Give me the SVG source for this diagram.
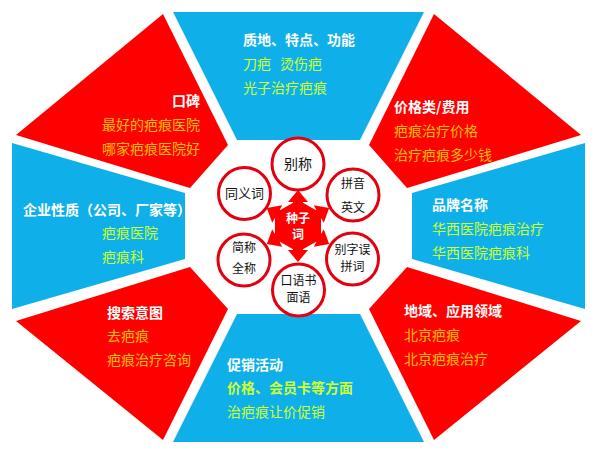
<svg xmlns="http://www.w3.org/2000/svg" xmlns:xlink="http://www.w3.org/1999/xlink" width="600" height="459" viewBox="0 0 600 459">
<style>
text{font-family:"Noto Sans CJK SC","Noto Sans",sans-serif;font-size:14px}
.t{fill:#fff;font-weight:bold}
.g{fill:#CCFF33}
.o{fill:#FFC000}
.blue{fill:#0FB0EA}
.red{fill:#FF0000}
.c{fill:#fff;stroke:#E3000F;stroke-width:3}
.k{fill:#111;font-size:12px;text-anchor:middle}
</style>
<defs>
<path id="arr" d="M-5,0 L-5,-24 L-10,-24 L0,-36 L10,-24 L5,-24 L5,0 Z" fill="#FF0000"/>
</defs>
<rect width="600" height="459" fill="#fff"/>
<g id="sector-top">
<polygon class="blue" points="173,12 424,12 360,140 237,140"/>
<text x="243" y="45" class="t">质地、特点、功能</text>
<text x="243" y="69" class="g">刀疤<tspan x="280">烫伤疤</tspan></text>
<text x="243" y="93" class="g">光子治疗疤痕</text>
</g>
<g id="sector-top-right">
<polygon class="red" points="434,14 581,135 407,188 369,145"/>
<text x="394" y="112" class="t">价格类/费用</text>
<text x="394" y="136" class="o">疤痕治疗价格</text>
<text x="394" y="160" class="o">治疗疤痕多少钱</text>
</g>
<g id="sector-right">
<polygon class="blue" points="412,193 585,143 585,309 412,259"/>
<text x="432" y="210" class="t">品牌名称</text>
<text x="432" y="234" class="g">华西医院疤痕治疗</text>
<text x="432" y="258" class="g">华西医院疤痕科</text>
</g>
<g id="sector-bottom-right">
<polygon class="red" points="369,309 407,267 581,321 434,440"/>
<text x="404" y="316" class="t">地域、应用领域</text>
<text x="404" y="340" class="o">北京疤痕</text>
<text x="404" y="364" class="o">北京疤痕治疗</text>
</g>
<g id="sector-bottom">
<polygon class="blue" points="237,314 360,314 424,442 173,442"/>
<text x="227" y="370" class="t">促销活动</text>
<text x="227" y="393" class="g" font-weight="bold">价格、会员卡等方面</text>
<text x="227" y="417" class="g">治疤痕让价促销</text>
</g>
<g id="sector-bottom-left">
<polygon class="red" points="16,321 190,267 228,309 163,440"/>
<text x="107" y="318" class="t">搜索意图</text>
<text x="107" y="341" class="o">去疤痕</text>
<text x="107" y="365" class="o">疤痕治疗咨询</text>
</g>
<g id="sector-left">
<polygon class="blue" points="12,143 185,193 185,259 12,309"/>
<text x="23" y="215" class="t">企业性质（公司、厂家等）</text>
<text x="102" y="238" class="g">疤痕医院</text>
<text x="102" y="262" class="g">疤痕科</text>
</g>
<g id="sector-top-left">
<polygon class="red" points="163,14 16,135 190,188 228,145"/>
<text x="200" y="106" class="t" text-anchor="end">口碑</text>
<text x="200" y="130" class="o" text-anchor="end">最好的疤痕医院</text>
<text x="200" y="154" class="o" text-anchor="end">哪家疤痕医院好</text>
</g>
<g id="connectors">
<g transform="translate(298,226)">
<use xlink:href="#arr"/>
<use xlink:href="#arr" transform="rotate(60)"/>
<use xlink:href="#arr" transform="rotate(120)"/>
<use xlink:href="#arr" transform="rotate(180)"/>
<use xlink:href="#arr" transform="rotate(240)"/>
<use xlink:href="#arr" transform="rotate(300)"/>
</g>
</g>
<g id="seed">
<polygon fill="#FF0000" points="298,200 321,213 321,239 298,252 275,239 275,213"/>
<text x="298" y="223" class="t" text-anchor="middle" style="font-size:12px">种子</text>
<text x="298" y="239" class="t" text-anchor="middle" style="font-size:12px">词</text>
</g>
<g id="n-biecheng">
<circle class="c" cx="298" cy="164" r="26"/>
<text x="298" y="169" class="k" style="font-size:14px">别称</text>
</g>
<g id="n-tongyici">
<circle class="c" cx="244.5" cy="193.5" r="26"/>
<text x="244.5" y="198" class="k" style="font-size:13px">同义词</text>
</g>
<g id="n-pinyin">
<circle class="c" cx="353" cy="195" r="26"/>
<text x="353" y="188" class="k">拼音</text>
<text x="353" y="212" class="k">英文</text>
</g>
<g id="n-jiancheng">
<circle class="c" cx="244" cy="260" r="26"/>
<text x="244" y="252" class="k">简称</text>
<text x="244" y="273" class="k">全称</text>
</g>
<g id="n-biezi">
<circle class="c" cx="352.5" cy="259" r="26"/>
<text x="352.5" y="254" class="k">别字误</text>
<text x="352.5" y="271" class="k">拼词</text>
</g>
<g id="n-kouyu">
<circle class="c" cx="298.5" cy="290" r="26"/>
<text x="298.5" y="285" class="k">口语书</text>
<text x="298.5" y="302" class="k">面语</text>
</g>
</svg>
